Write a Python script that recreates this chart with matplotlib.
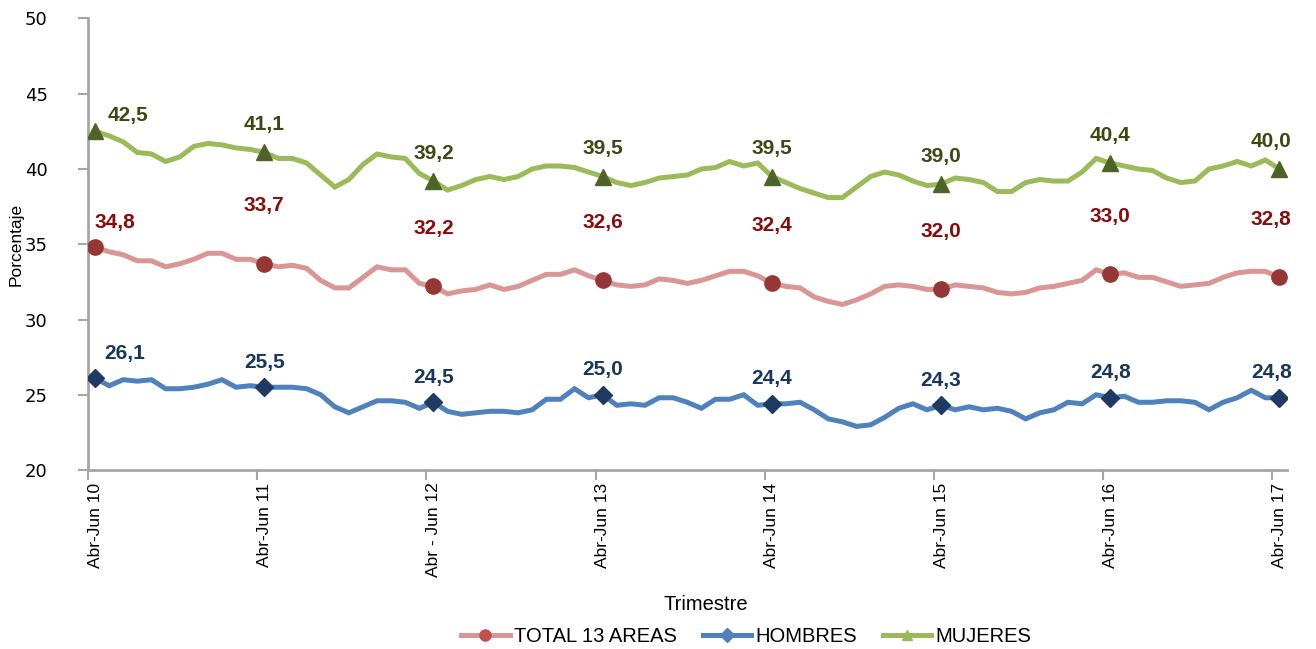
import numpy as np
import matplotlib
matplotlib.use("Agg")
import matplotlib.pyplot as plt
from matplotlib.lines import Line2D

# Datos: trimestres móviles desde Abr-Jun 10 hasta Abr-Jun 17 (85 puntos)
etiquetas_x = ["Abr-Jun 10", "Abr-Jun 11", "Abr - Jun 12", "Abr-Jun 13",
               "Abr-Jun 14", "Abr-Jun 15", "Abr-Jun 16", "Abr-Jun 17"]

total = [34.8, 34.5, 34.3, 33.9, 33.9, 33.5, 33.7, 34.0, 34.4, 34.4, 34.0, 34.0,
         33.7, 33.5, 33.6, 33.4, 32.6, 32.1, 32.1, 32.8, 33.5, 33.3, 33.3, 32.4,
         32.2, 31.7, 31.9, 32.0, 32.3, 32.0, 32.2, 32.6, 33.0, 33.0, 33.3, 32.9,
         32.6, 32.3, 32.2, 32.3, 32.7, 32.6, 32.4, 32.6, 32.9, 33.2, 33.2, 32.9,
         32.4, 32.2, 32.1, 31.5, 31.2, 31.0, 31.3, 31.7, 32.2, 32.3, 32.2, 32.0,
         32.0, 32.3, 32.2, 32.1, 31.8, 31.7, 31.8, 32.1, 32.2, 32.4, 32.6, 33.3,
         33.0, 33.1, 32.8, 32.8, 32.5, 32.2, 32.3, 32.4, 32.8, 33.1, 33.2, 33.2,
         32.8]

hombres = [26.1, 25.6, 26.0, 25.9, 26.0, 25.4, 25.4, 25.5, 25.7, 26.0, 25.5, 25.6,
           25.5, 25.5, 25.5, 25.4, 25.0, 24.2, 23.8, 24.2, 24.6, 24.6, 24.5, 24.1,
           24.5, 23.9, 23.7, 23.8, 23.9, 23.9, 23.8, 24.0, 24.7, 24.7, 25.4, 24.8,
           25.0, 24.3, 24.4, 24.3, 24.8, 24.8, 24.5, 24.1, 24.7, 24.7, 25.0, 24.3,
           24.4, 24.4, 24.5, 24.0, 23.4, 23.2, 22.9, 23.0, 23.5, 24.1, 24.4, 24.0,
           24.3, 24.0, 24.2, 24.0, 24.1, 23.9, 23.4, 23.8, 24.0, 24.5, 24.4, 25.0,
           24.8, 24.9, 24.5, 24.5, 24.6, 24.6, 24.5, 24.0, 24.5, 24.8, 25.3, 24.8,
           24.8]

mujeres = [42.5, 42.2, 41.8, 41.1, 41.0, 40.5, 40.8, 41.5, 41.7, 41.6, 41.4, 41.3,
           41.1, 40.7, 40.7, 40.4, 39.6, 38.8, 39.3, 40.3, 41.0, 40.8, 40.7, 39.7,
           39.2, 38.6, 38.9, 39.3, 39.5, 39.3, 39.5, 40.0, 40.2, 40.2, 40.1, 39.8,
           39.5, 39.1, 38.9, 39.1, 39.4, 39.5, 39.6, 40.0, 40.1, 40.5, 40.2, 40.4,
           39.5, 39.1, 38.7, 38.4, 38.1, 38.1, 38.8, 39.5, 39.8, 39.6, 39.2, 38.9,
           39.0, 39.4, 39.3, 39.1, 38.5, 38.5, 39.1, 39.3, 39.2, 39.2, 39.8, 40.7,
           40.4, 40.2, 40.0, 39.9, 39.4, 39.1, 39.2, 40.0, 40.2, 40.5, 40.2, 40.6,
           40.0]

x = np.arange(len(total))
anuales = list(range(0, len(total), 12))  # posiciones Abr-Jun de cada año

plt.rcParams["font.family"] = ["Liberation Sans", "DejaVu Sans"]

fig = plt.figure(figsize=(13.16, 6.49), dpi=100)
ax = fig.add_axes([0.0669, 0.2758, 0.9107, 0.6957])

# (valores, color línea, marcador, color marcador, color etiqueta,
#  desplazamiento etiqueta, desplazamiento primera etiqueta, nombre, color leyenda)
series = [
    (total, "#D99694", "o", "#953735", "#8B0A0A", 42, (14, 18), "TOTAL 13 AREAS", "#C0504D"),
    (hombres, "#4F81BD", "D", "#1F3B63", "#17375E", 18, (21, 18), "HOMBRES", "#4F81BD"),
    (mujeres, "#9BBB59", "^", "#4F6228", "#3D4812", 20, (24, 11.5), "MUJERES", "#9BBB59"),
]

handles = []
for vals, c_line, mk, c_mk, c_lab, dy, primero, nombre, c_leg in series:
    vals = np.array(vals)
    ax.plot(x, vals, color=c_line, lw=3.6, solid_joinstyle="miter", zorder=2)
    ms = 11 if mk != "D" else 9
    ax.plot(x[anuales], vals[anuales], linestyle="none", marker=mk,
            markersize=ms, color=c_mk, zorder=3)
    for k, i in enumerate(anuales):
        off = (0, dy)
        if k == 0:
            off = primero
        elif k == len(anuales) - 1:
            off = (-6, dy)
        ax.annotate(f"{vals[i]:.1f}".replace(".", ","), (x[i], vals[i]),
                    xytext=off, textcoords="offset points",
                    ha="center", va="center", fontsize=15, fontweight="bold",
                    color=c_lab, zorder=4)
    c_h = "#C0504D" if mk == "o" else c_leg
    handles.append(Line2D([0], [0], color=c_line, lw=3.6, marker=mk,
                          markersize=8 if mk == "o" else 7,
                          markerfacecolor=c_h, markeredgecolor=c_h))

# Ejes
ax.set_xlim(-0.5, len(total) - 0.5)
ax.set_ylim(20, 50)
ax.set_yticks(np.arange(20, 51, 5))
ax.set_xticks(anuales)
ax.set_xticklabels(etiquetas_x, rotation=90, fontsize=12.5)
ax.set_xticks(np.array(anuales) - 0.5, minor=True)
ax.tick_params(axis="x", which="major", length=0, pad=9)
ax.tick_params(axis="x", which="minor", length=7, width=1.5, color="#A6A6A6")
ax.tick_params(axis="y", length=7, width=1.5, color="#A6A6A6", pad=22)
for lab in ax.get_yticklabels():
    lab.set_fontfamily("DejaVu Sans")
    lab.set_fontsize(13)

for s in ["top", "right"]:
    ax.spines[s].set_visible(False)
for s in ["left", "bottom"]:
    ax.spines[s].set_color("#A6A6A6")
    ax.spines[s].set_linewidth(2)

fig.text(0.0125, 0.623, "Porcentaje", rotation=90, ha="center", va="center",
         fontsize=12.5)
fig.text(0.536, 0.068, "Trimestre", ha="center", va="center", fontsize=14.5)

fig.legend(handles, [s[7] for s in series], loc="center",
           bbox_to_anchor=(0.567, 0.019), ncol=3, frameon=False, fontsize=14.5,
           handlelength=2.4, handletextpad=0.2, columnspacing=1.3)

fig.savefig("out.png", dpi=100)
